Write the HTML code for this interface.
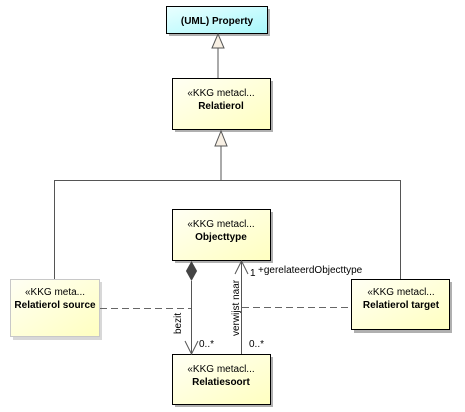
<!DOCTYPE html>
<html><head><meta charset="utf-8"><style>
html,body{margin:0;padding:0;background:#fff;width:465px;height:412px;overflow:hidden}
text{font-family:"Liberation Sans",Arial,sans-serif;font-size:10px;fill:#000}
</style></head><body>
<svg width="465" height="412" viewBox="0 0 465 412" xmlns="http://www.w3.org/2000/svg">
<defs>
<linearGradient id="y" x1="0" y1="0" x2="1" y2="1"><stop offset="0" stop-color="#fffff4"/><stop offset="1" stop-color="#ffffc0"/></linearGradient>
<linearGradient id="b" x1="0" y1="0" x2="1" y2="1"><stop offset="0" stop-color="#eaffff"/><stop offset="1" stop-color="#a8f8fc"/></linearGradient>
</defs>
<!-- UML Property -->
<rect x="169" y="9" width="101" height="27" fill="#b0b0b0"/>
<rect x="166.5" y="6.5" width="101" height="27" fill="url(#b)" stroke="#000"/>
<text x="217" y="24" text-anchor="middle" font-weight="bold">(UML) Property</text>
<line x1="218" y1="48" x2="218" y2="78" stroke="#555"/>
<polygon points="218,34 212,48 224,48" fill="#f8f0e4" stroke="#555"/>
<!-- Relatierol -->
<rect x="175" y="81" width="98" height="51" fill="#b0b0b0"/>
<rect x="172.5" y="78.5" width="98" height="51" fill="url(#y)" stroke="#000"/>
<text x="221" y="96" text-anchor="middle">«KKG metacl...</text>
<text x="221" y="109" text-anchor="middle" font-weight="bold">Relatierol</text>
<polygon points="221,131 215,146 227,146" fill="#f8f0e4" stroke="#555"/>
<polyline points="221,146 221,180.5" fill="none" stroke="#555"/>
<polyline points="54.5,279 54.5,180.5 400.5,180.5 400.5,279" fill="none" stroke="#555"/>
<!-- Objecttype -->
<rect x="175" y="212" width="98" height="51" fill="#b0b0b0"/>
<rect x="172.5" y="209.5" width="98" height="51" fill="url(#y)" stroke="#000"/>
<text x="221" y="227" text-anchor="middle">«KKG metacl...</text>
<text x="221" y="240" text-anchor="middle" font-weight="bold">Objecttype</text>
<!-- Relatiesoort -->
<rect x="175" y="357" width="98" height="50" fill="#b0b0b0"/>
<rect x="172.5" y="354.5" width="98" height="50" fill="url(#y)" stroke="#000"/>
<text x="221" y="372" text-anchor="middle">«KKG metacl...</text>
<text x="221" y="385" text-anchor="middle" font-weight="bold">Relatiesoort</text>
<!-- source -->
<rect x="13" y="282" width="89" height="58" fill="#d8d8d8"/>
<rect x="10.5" y="279.5" width="89" height="57" fill="url(#y)" stroke="#c8c8c8"/>
<text x="55" y="295" text-anchor="middle">«KKG meta...</text>
<text x="55" y="308" text-anchor="middle" font-weight="bold">Relatierol source</text>
<!-- target -->
<rect x="354" y="282" width="98" height="51" fill="#b0b0b0"/>
<rect x="351.5" y="279.5" width="98" height="50" fill="url(#y)" stroke="#000"/>
<text x="401" y="295" text-anchor="middle">«KKG metacl...</text>
<text x="401" y="308" text-anchor="middle" font-weight="bold">Relatierol target</text>
<!-- bezit -->
<line x1="191.5" y1="281" x2="191.5" y2="354" stroke="#555"/>
<polygon points="191.5,262 186.5,271 191.5,280 196.5,271" fill="#444" stroke="#444"/>
<polyline points="185,341 191.5,354 198,341" fill="none" stroke="#555"/>
<text transform="translate(181,334) rotate(-90)">bezit</text>
<text x="199" y="347">0..*</text>
<!-- verwijst naar -->
<line x1="241.5" y1="261" x2="241.5" y2="354" stroke="#555"/>
<polyline points="235,274 241.5,261 248,274" fill="none" stroke="#555"/>
<text transform="translate(239,336) rotate(-90)">verwijst naar</text>
<text x="249" y="347">0..*</text>
<text x="250" y="276">1</text>
<text x="258" y="273">+gerelateerdObjecttype</text>
<!-- dashed -->
<line x1="100" y1="308.5" x2="191" y2="308.5" stroke="#666" stroke-dasharray="7,4"/>
<line x1="242" y1="307.5" x2="350" y2="307.5" stroke="#666" stroke-dasharray="7,4"/>
</svg>
</body></html>
